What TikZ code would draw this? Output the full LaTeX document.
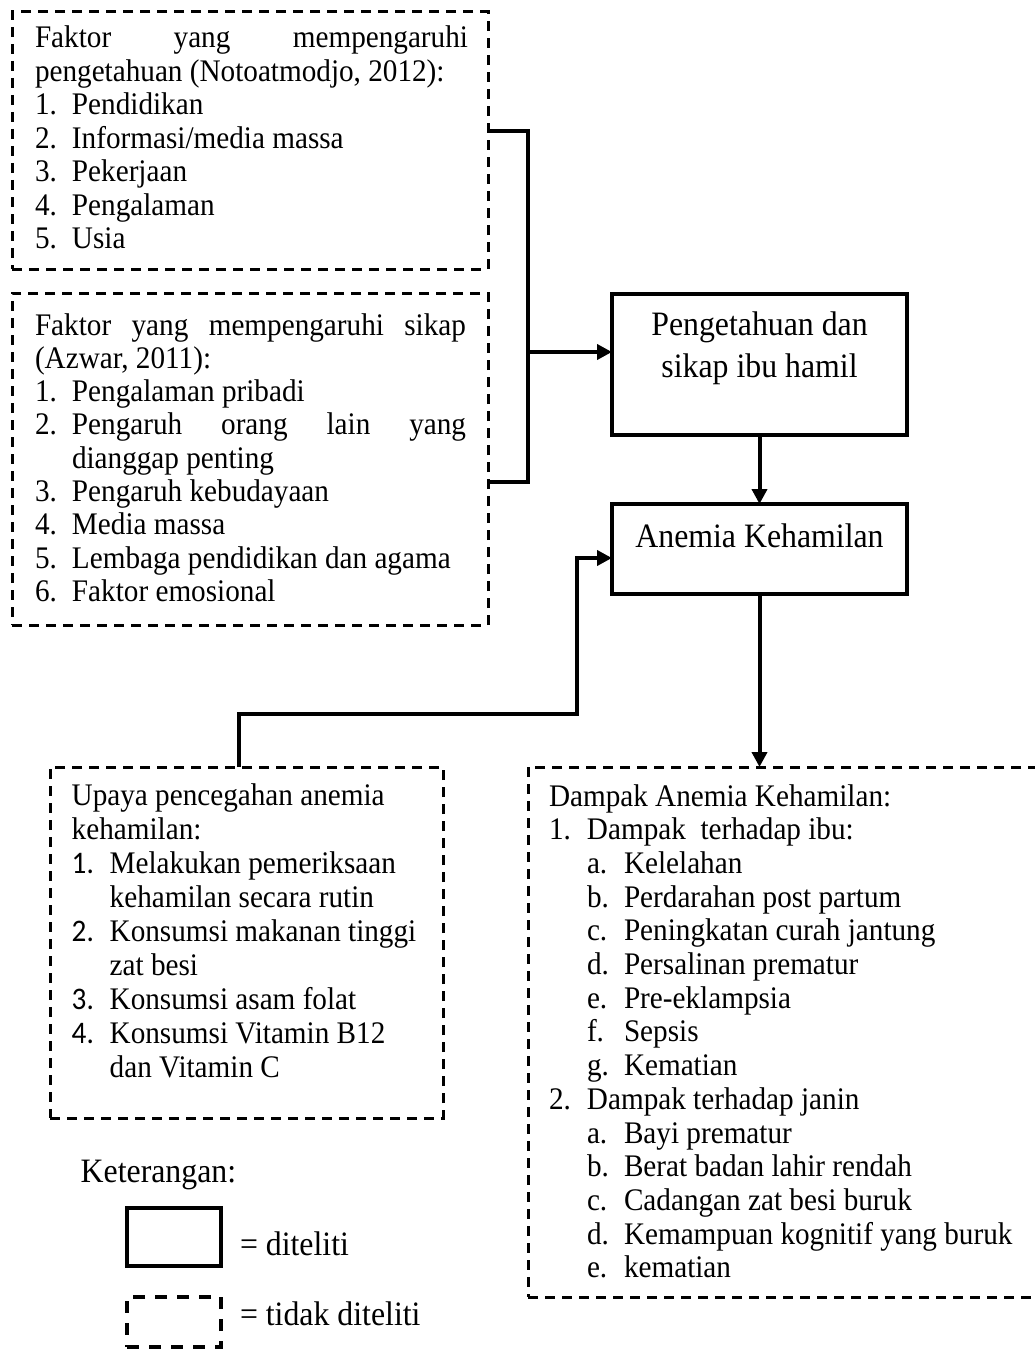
\documentclass[tikz,border=0pt]{standalone}
\usepackage{fontspec}
\setmainfont[FakeStretch=0.93]{Liberation Serif}
\newfontfamily\numfont[FakeStretch=0.93]{Carlito}
\usetikzlibrary{arrows.meta}
\newcommand\lblA[1]{\makebox[37pt][l]{#1}}
\newcommand\lblU[1]{\makebox[38pt][l]{\numfont #1}}
\newcommand\lblD[1]{\makebox[38pt][l]{#1}}
\newcommand\lblS[1]{\makebox[37pt][l]{#1}}
\newcommand\fsL{\fontsize{31.4}{33.5}\selectfont}
\newcommand\fsB{\fontsize{34.2}{42}\selectfont}
\begin{document}
\begin{tikzpicture}[x=1pt,y=-1pt,
  dbox/.style={draw, line width=3pt, dash pattern=on 10pt off 7pt, anchor=north west, outer sep=0pt, inner sep=0pt},
  sbox/.style={draw, line width=4pt, anchor=north west, outer sep=0pt, inner sep=0pt},
  lbox/.style={draw, line width=4pt, dash pattern=on 12pt off 10pt, anchor=north west, outer sep=0pt, inner sep=0pt},
  conn/.style={line width=4pt},
  arr/.style={conn, -{Triangle[length=15pt,width=15pt]}},
  txt/.style={anchor=base west, inner sep=0pt, outer sep=0pt},
  ctxt/.style={anchor=base, inner sep=0pt, outer sep=0pt},
]
\useasboundingbox[fill=white] (0,0) rectangle (1035,1351);

% boxes
\node[dbox, minimum width=476pt, minimum height=257pt] (b1) at (12,12) {};
\node[dbox, minimum width=476pt, minimum height=332pt] (b2) at (12,293) {};
\node[sbox, minimum width=295pt, minimum height=141pt] (pk) at (612,294) {};
\node[sbox, minimum width=295pt, minimum height=90pt] (an) at (612,504) {};
\node[dbox, minimum width=393pt, minimum height=351pt] (up) at (50,767) {};
\node[dbox, minimum width=517pt, minimum height=530pt] (dp) at (528,767) {};
\node[sbox, minimum width=94pt, minimum height=58pt] (lg1) at (127,1208) {};
\node[lbox, minimum width=94pt, minimum height=50pt] (lg2) at (127,1297) {};

% texts
\node[txt] (b1t) at (35,48) {\parbox[t]{433pt}{\fontsize{31.4}{33.5}\selectfont
\makebox[433pt][s]{Faktor yang mempengaruhi}\\
pengetahuan (Notoatmodjo, 2012):\\
\lblA{1.}Pendidikan\\
\lblA{2.}Informasi/media massa\\
\lblA{3.}Pekerjaan\\
\lblA{4.}Pengalaman\\
\lblA{5.}Usia}};

\node[txt] (b2t) at (35,335) {\parbox[t]{433pt}{\fontsize{31.4}{33.3}\selectfont
\makebox[431pt][s]{Faktor yang mempengaruhi sikap}\\
(Azwar, 2011):\\
\lblA{1.}Pengalaman pribadi\\
\lblA{2.}\makebox[394pt][s]{Pengaruh orang lain yang}\\
\hspace*{37pt}dianggap penting\\
\lblA{3.}Pengaruh kebudayaan\\
\lblA{4.}Media massa\\
\lblA{5.}Lembaga pendidikan dan agama\\
\lblA{6.}Faktor emosional}};

\node[ctxt] (pkt) at (759.5,335) {\parbox[t]{290pt}{\centering\fsB
Pengetahuan dan\\ sikap ibu hamil}};
\node[ctxt] (ant) at (759.5,547) {\fsB Anemia Kehamilan};

\node[txt] (upt) at (71.7,805) {\parbox[t]{370pt}{\fontsize{31.4}{34}\selectfont
Upaya pencegahan anemia\\
kehamilan:\\
\lblU{1.}Melakukan pemeriksaan\\
\hspace*{38pt}kehamilan secara rutin\\
\lblU{2.}Konsumsi makanan tinggi\\
\hspace*{38pt}zat besi\\
\lblU{3.}Konsumsi asam folat\\
\lblU{4.}Konsumsi Vitamin B12\\
\hspace*{38pt}dan Vitamin C}};

\node[txt] (dpt) at (549,806) {\parbox[t]{480pt}{\fontsize{31.4}{33.7}\selectfont
Dampak Anemia Kehamilan:\\
\lblD{1.}Dampak\ \ terhadap ibu:\\
\hspace*{38pt}\lblS{a.}Kelelahan\\
\hspace*{38pt}\lblS{b.}Perdarahan post partum\\
\hspace*{38pt}\lblS{c.}Peningkatan curah jantung\\
\hspace*{38pt}\lblS{d.}Persalinan prematur\\
\hspace*{38pt}\lblS{e.}Pre-eklampsia\\
\hspace*{38pt}\lblS{f.}Sepsis\\
\hspace*{38pt}\lblS{g.}Kematian\\
\lblD{2.}Dampak terhadap janin\\
\hspace*{38pt}\lblS{a.}Bayi prematur\\
\hspace*{38pt}\lblS{b.}Berat badan lahir rendah\\
\hspace*{38pt}\lblS{c.}Cadangan zat besi buruk\\
\hspace*{38pt}\lblS{d.}Kemampuan kognitif yang buruk\\
\hspace*{38pt}\lblS{e.}kematian}};

\node[txt] (ket) at (80.7,1182) {\fsB Keterangan:};
\node[txt] (lt1) at (240,1255) {\fsB = diteliti};
\node[txt] (lt2) at (240,1325) {\fsB = tidak diteliti};

% connectors
\coordinate (t1) at (528,131);
\coordinate (t2) at (528,482);
\coordinate (br) at (528,352);
\draw[conn] (b1.east |- t1) -- (t1) -- (t2) -- (b2.east |- t2);
\draw[arr] (br) -- (pk.west |- br);
\draw[arr] (pk.south) -- (an.north);
\coordinate (u1) at (239,714);
\coordinate (u2) at (577,714);
\coordinate (u3) at (577,558);
\draw[arr] (up.north -| u1) -- (u1) -- (u2) -- (u3) -- (an.west |- u3);
\draw[arr] (an.south) -- (an.south |- dp.north);
\end{tikzpicture}
\end{document}
